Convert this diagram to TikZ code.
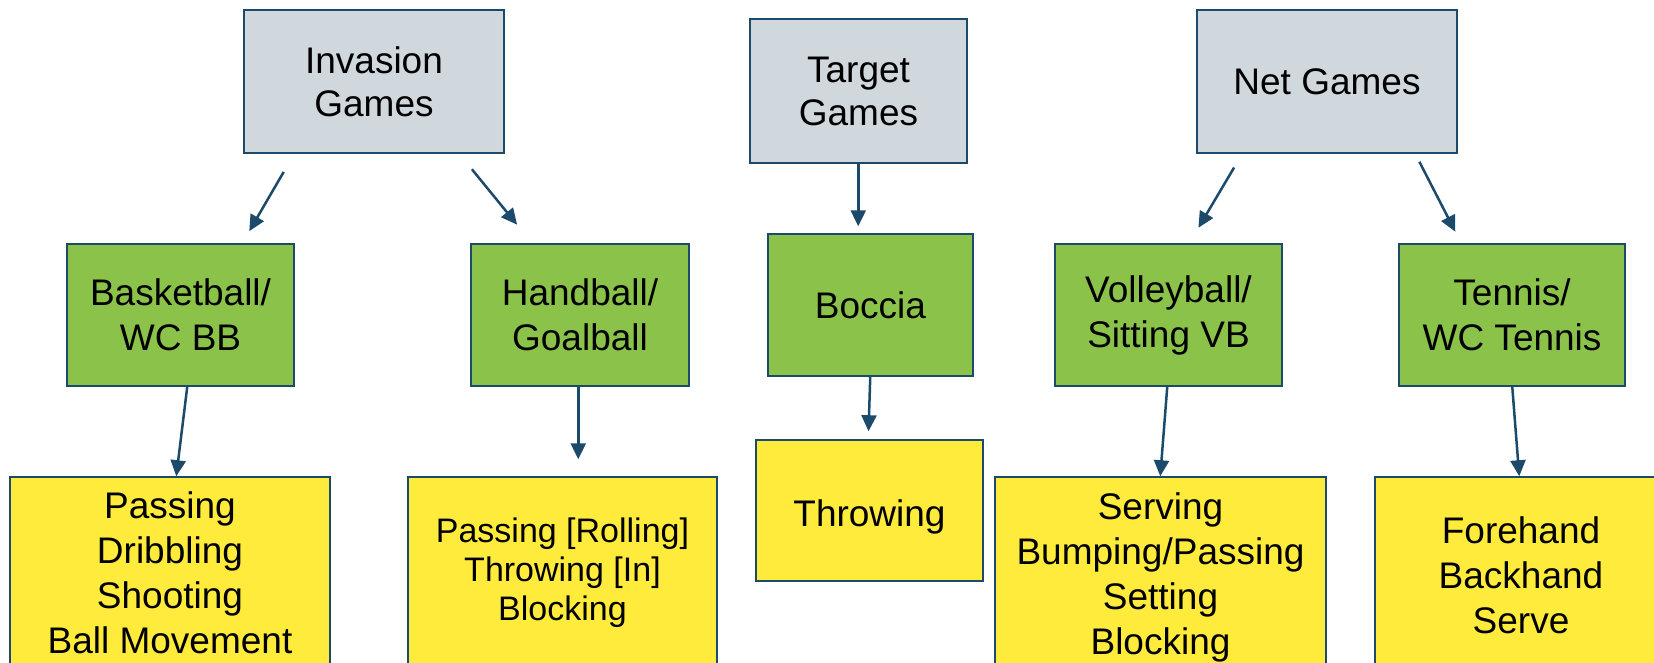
\documentclass[tikz,border=0pt]{standalone}
\usepackage{fontspec}
\setmainfont{Liberation Sans}
\usetikzlibrary{arrows.meta}
\usepackage{xcolor}
\definecolor{boxline}{HTML}{1B4A6B}
\definecolor{catgray}{HTML}{D0D8DE}
\definecolor{sportgreen}{HTML}{8BC34A}
\definecolor{skillyellow}{HTML}{FFEB3B}

\begin{document}
\begin{tikzpicture}[x=1pt, y=-1pt,
        box/.style={draw=boxline, line width=1.5pt, align=center, inner sep=0pt,
                    font=\fontsize{37}{45}\selectfont},
        category/.style={box, fill=catgray, minimum height=143pt,
                    font=\fontsize{37}{43}\selectfont},
        sport/.style={box, fill=sportgreen, minimum height=142pt},
        skill/.style={box, fill=skillyellow},
        arr/.style={-{Triangle[length=16pt,width=15pt]}, draw=boxline, line width=2.5pt}]
        \useasboundingbox (0,0) rectangle (1654,662);
        \clip (0,0) rectangle (1654,662);

        % Categories
        \node[category, minimum width=260pt] (inv) at (374,81.5) {Invasion\\Games};
        \node[category, minimum width=217pt, minimum height=144pt] (tgt) at (858.5,91) {Target\\Games};
        \node[category, minimum width=260pt] (net) at (1327,81.5) {Net Games};

        % Sports
        \node[sport, minimum width=227pt] (bb) at (180.5,315) {Basketball/\\WC BB};
        \node[sport, minimum width=218pt] (hb) at (580,315) {Handball/\\Goalball};
        \node[sport, minimum width=205pt] (boc) at (870.5,305) {Boccia};
        \node[sport, minimum width=227pt] (vb) at (1168.5,315) {Volleyball/\\Sitting VB};
        \node[sport, minimum width=226pt] (ten) at (1512,315) {Tennis/\\WC Tennis};

        % Skills
        \node[skill, minimum width=320pt, minimum height=192pt] (bbskill) at (170,573)
            {Passing\\Dribbling\\Shooting\\Ball Movement};
        \node[skill, minimum width=309pt, minimum height=192pt,
              font=\fontsize{34}{39}\selectfont] (hbskill) at (562.5,573)
            {Passing [Rolling]\\Throwing [In]\\Blocking};
        \node[skill, minimum width=227pt, minimum height=141pt,
              text height=39pt, text depth=8pt] (bocskill) at (869.5,510.5) {Throwing};
        \node[skill, minimum width=331pt, minimum height=200pt] (vbskill) at (1160.5,577)
            {Serving\\Bumping/Passing\\Setting\\Blocking};
        \node[skill, minimum width=292pt, minimum height=196pt] (tenskill) at (1521,575)
            {Forehand\\Backhand\\Serve};

        % Edges
        \draw[arr, shorten <=21pt, shorten >=14pt] ([xshift=51]inv.south west) -- ([xshift=176]bb.north west);
        \draw[arr, shorten <=20pt, shorten >=24pt] ([xshift=216]inv.south west) -- ([xshift=62]hb.north west);
        \draw[arr, shorten >=7pt] ([xshift=109]tgt.south west) -- ([xshift=91]boc.north west);
        \draw[arr, shorten <=16pt, shorten >=18pt] ([xshift=46]net.south west) -- ([xshift=135]vb.north west);
        \draw[arr, shorten <=9pt, shorten >=13pt] ([xshift=219]net.south west) -- ([xshift=63]ten.north west);

        \draw[arr] ([xshift=121]bb.south west) -- ([xshift=167]bbskill.north west);
        \draw[arr, shorten >=17pt] ([xshift=108]hb.south west) -- ([xshift=171]hbskill.north west);
        \draw[arr, shorten >=8pt] ([xshift=103]boc.south west) -- ([xshift=113]bocskill.north west);
        \draw[arr] ([xshift=113]vb.south west) -- ([xshift=166]vbskill.north west);
        \draw[arr] ([xshift=114]ten.south west) -- ([xshift=145]tenskill.north west);
    \end{tikzpicture}
\end{document}
